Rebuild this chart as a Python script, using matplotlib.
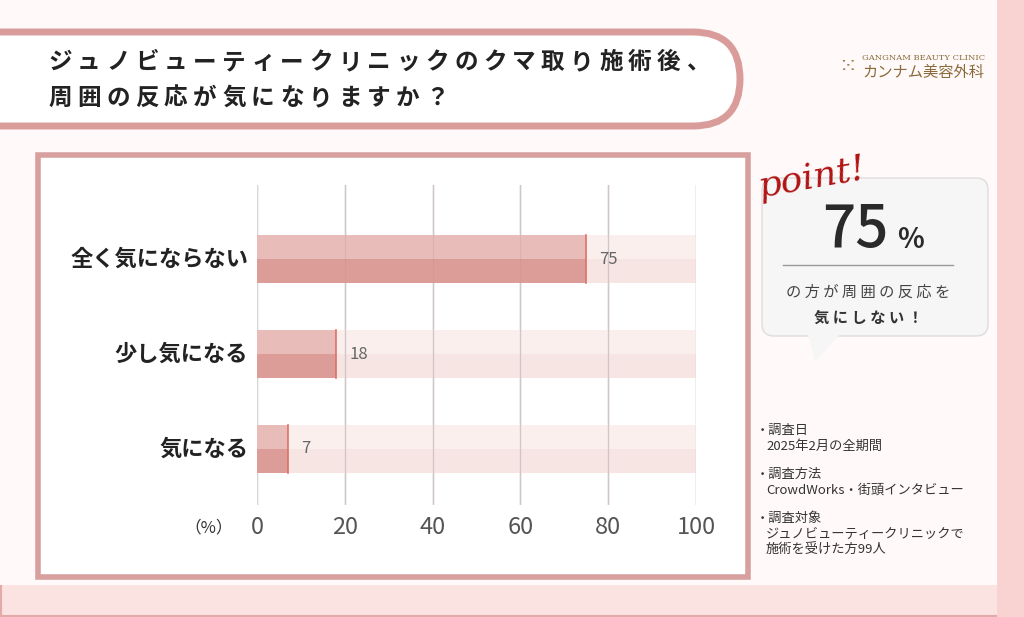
import matplotlib
matplotlib.use("Agg")
from matplotlib import pyplot as plt
from matplotlib.patches import FancyBboxPatch, Rectangle, Polygon
import numpy as np

plt.rcParams['font.family'] = ['Noto Sans CJK JP', 'DejaVu Sans']

categories = ['全く気にならない', '少し気になる', '気になる']
values = [75, 18, 7]
ticks = [0, 20, 40, 60, 80, 100]
title_lines = ['ジュノビューティークリニックのクマ取り施術後、', '周囲の反応が気になりますか？']
notes = [('調査日', '2025年2月の全期間'),
         ('調査方法', 'CrowdWorks・街頭インタビュー'),
         ('調査対象', 'ジュノビューティークリニックで\n施術を受けた方99人')]

W, H = 1024, 617
fig = plt.figure(figsize=(W / 100, H / 100), dpi=100)
fig.patch.set_facecolor('#fbe3e1')

# 背景
bg = fig.add_axes([0, 0, 1, 1])
bg.set_xlim(0, W)
bg.set_ylim(H, 0)
bg.axis('off')
bg.add_patch(Rectangle((0, 0), W, H, fc='#fbe3e1', ec='#e2aaa8', lw=3))
bg.add_patch(Rectangle((0, 0), 997, 585, fc='#fffaf9', ec='none'))
bg.add_patch(Rectangle((997, 0), 27, H, fc='#f9d3d1', ec='none'))
# タイトル枠
bg.add_patch(FancyBboxPatch((-60, 32), 800, 94, boxstyle='round,pad=0,rounding_size=47',
                            fc='white', ec='#d99c9a', lw=5))
for i, t in enumerate(title_lines):
    for j, ch in enumerate(t):
        bg.text(48 + j * 29, 62 + i * 36, ch, fontsize=17, fontweight='bold', color='#222',
                va='center', ha='left')
# ロゴ
bg.text(838, 67, '⁙', fontsize=16, color='#9a7a4a', va='center')
bg.text(862, 58, 'GANGNAM BEAUTY CLINIC', fontsize=6, color='#8a6a3a', va='center', family='DejaVu Serif')
bg.text(862, 72, 'カンナム美容外科', fontsize=11, color='#8a6a3a', va='center')
# グラフ枠
bg.add_patch(Rectangle((38, 155), 710, 422, fc='white', ec='#d7a09e', lw=4))
# ポイント吹き出し
bg.add_patch(FancyBboxPatch((762, 178), 226, 158, boxstyle='round,pad=0,rounding_size=12',
                            fc='#f6f6f6', ec='#dddddd', lw=1))
bg.add_patch(Polygon([[808, 334], [815, 362], [840, 334]], fc='#f6f6f6', ec='none'))
bg.text(812, 178, 'point!', fontsize=26, color='#b01414', style='italic',
        family='DejaVu Serif', rotation=10, ha='center', va='center')
bg.text(855, 230, '75', fontsize=42, fontweight='medium', color='#2a2a2a', ha='center', va='center')
bg.text(910, 240, '%', fontsize=20, fontweight='bold', color='#2a2a2a', ha='center', va='center')
bg.plot([783, 953], [265, 265], color='#999', lw=1)
bg.text(868, 292, 'の 方 が 周 囲 の 反 応 を', fontsize=11, color='#444', ha='center', va='center')
bg.text(868, 318, '気 に し な い ！', fontsize=11, fontweight='bold', color='#333', ha='center', va='center')
# 注記
ny = 424
for head, body in notes:
    bg.text(756, ny, '・' + head, fontsize=9.5, color='#333', va='top')
    bg.text(766, ny + 16, body, fontsize=9.5, color='#333', va='top', linespacing=1.3)
    ny += 44 + 16 * body.count('\n')

# 棒グラフ
ax = fig.add_axes([257 / W, 1 - 505 / H, 439 / W, 320 / H])
ax.set_xlim(0, 100)
ax.set_ylim(2.59, -0.78)
ax.set_facecolor('none')
for s in ax.spines.values():
    s.set_visible(False)
ax.set_xticks(ticks)
ax.tick_params(axis='x', length=0, labelsize=17, colors='#555', pad=8)
ax.set_yticks([])
ax.xaxis.grid(True, color='#d8d8d8', lw=1)
ax.set_axisbelow(True)

y = np.arange(len(categories))
h = 0.505
ax.barh(y - h / 4, 100, height=h / 2, color='#fbefee', zorder=1)
ax.barh(y + h / 4, 100, height=h / 2, color='#f6e5e3', zorder=1)
for xv in ticks:
    ax.axvline(xv, color='#d8d8d8', lw=1, zorder=2)
ax.barh(y - h / 4, values, height=h / 2, color='#e8bcb8', zorder=3)
ax.barh(y + h / 4, values, height=h / 2, color='#dc9c98', zorder=3)
for xv in ticks[1:]:
    ax.axvline(xv, color='#c89090', lw=0.8, alpha=0.25, zorder=3.5)
for yi, v in zip(y, values):
    ax.plot([v, v], [yi - h / 2, yi + h / 2], color='#e07068', lw=1.2, zorder=4)
    ax.text(v + 3, yi, str(v), fontsize=12, color='#666', va='center', ha='left', zorder=5)
    ax.text(-2.0, yi, categories[yi], fontsize=16, fontweight='bold', color='#222',
            ha='right', va='center')
ax.text(-11, 2.59 + 0.24, '（%）', fontsize=12, color='#333', ha='center', va='center')

fig.savefig('out.png', dpi=100)
